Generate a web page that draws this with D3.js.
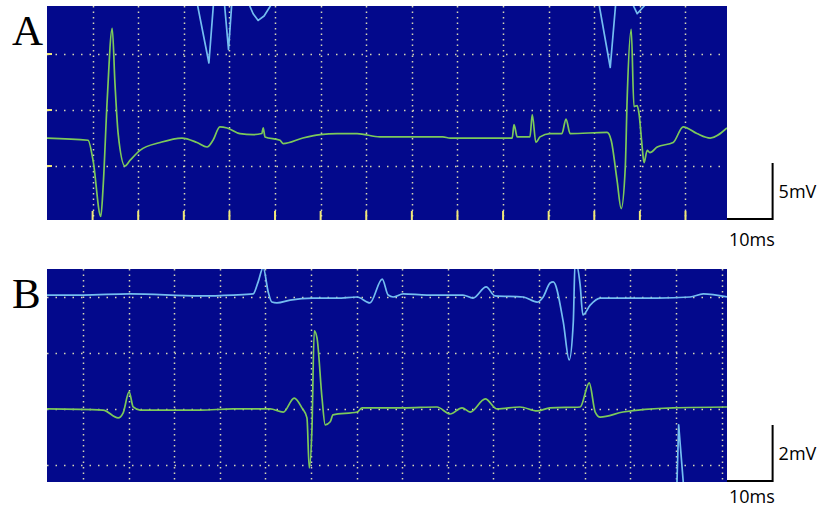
<!DOCTYPE html>
<html>
<head>
<meta charset="utf-8">
<script src="https://cdn.jsdelivr.net/npm/d3@7"></script>
<style>
  body { margin: 0; background: #fff; }
</style>
</head>
<body>
<div id="chart"></div>
<script>
// traces: [time in ms, voltage in mV], null = trace off screen
var greenA = [
  [0, -2.5], [9.0, -2.7], [10.1, -4.5], [11.8, -9.5], [12.3, -6.9], [13.2, 0.9],
  [14.3, 7.3], [14.9, 2.4], [15.6, -2.1], [17.1, -5.0], [18.2, -4.5], [20.4, -3.6],
  [24.8, -2.9], [29.6, -2.5], [32.9, -2.9], [35.1, -3.3], [36.4, -2.7], [37.9, -1.5],
  [39.5, -1.6], [42.3, -2.1], [45.2, -2.2], [47.1, -2.1], [47.4, -1.6], [47.8, -2.4],
  [51.1, -2.7], [51.8, -3.0], [56.1, -2.5], [59.9, -2.2], [63.6, -2.1], [68.0, -2.1],
  [73.0, -2.4], [79.6, -2.4], [86.8, -2.4], [88.4, -2.5], [100.0, -2.5], [102.0, -2.5],
  [102.4, -1.3], [103.1, -2.4], [105.9, -2.4], [106.4, -0.4], [107.2, -2.9], [108.1, -2.4],
  [110.3, -2.1], [112.9, -2.1], [113.8, -0.8], [114.7, -2.1], [122.8, -2.0], [123.7, -2.7],
  [125.0, -6.3], [125.9, -8.8], [126.8, -5.1], [127.2, 0.9], [128.1, 7.2], [128.7, 0.3],
  [129.4, 0.4], [129.8, -0.3], [130.5, -3.3], [130.9, -4.7], [131.6, -3.6], [132.2, -3.8],
  [133.8, -3.3], [137.3, -2.9], [139.5, -1.5], [142.5, -2.1], [145.4, -2.5], [149.1, -1.6]
];
var cyanA = [
  [32.7, 10.0], [35.5, 4.2], [36.6, 10.0], null,
  [38.8, 10.0], [39.8, 5.4], [40.6, 10.0], null,
  [43.7, 10.0], [45.2, 8.6], [46.3, 8.0], [47.6, 8.4], [49.3, 9.5], [50.0, 10.0], null,
  [120.8, 10.0], [123.5, 3.8], [124.8, 10.0], null,
  [127.8, 10.0], [129.4, 8.6], [131.4, 9.5], [132.5, 10.0]
];
var greenB = [
  [0, 0], [12.3, -0.04], [15.6, -0.32], [16.7, -0.14], [18.0, 0.61], [18.9, 0.07],
  [20.4, -0.04], [33.6, -0.04], [40.8, 0], [48.9, 0], [51.8, -0.11], [54.2, 0.39],
  [55.9, 0.04], [57.0, -0.32], [57.5, -2.11], [58.1, -0.68], [58.6, 2.79], [59.2, 2.54],
  [60.3, 0.39], [61.0, -0.57], [62.1, -0.46], [62.7, -0.21], [68.0, -0.11], [69.1, 0.04],
  [78.1, 0.04], [85.5, 0.07], [88.4, -0.18], [91.0, 0.04], [92.8, -0.11], [96.1, 0.36],
  [98.7, 0], [103.7, 0.07], [107.5, -0.07], [110.3, 0.04], [116.9, 0.07], [118.9, 0.93],
  [120.2, -0.11], [121.3, -0.29], [126.3, -0.11], [137.3, 0.04], [149.1, 0.07]
];
var cyanB = [
  [0, 4.07], [7.9, 4.07], [18.2, 4.11], [33.6, 4.04], [40.8, 4.07], [45.2, 4.11],
  [46.3, 4.54], [47.4, 5.05], [48.5, 4.18], [49.3, 3.82], [50.4, 3.79], [53.3, 3.89],
  [58.3, 3.96], [63.6, 3.96], [68.0, 4.0], [70.8, 3.79], [73.5, 4.64], [74.8, 4.07],
  [75.9, 4.0], [78.1, 4.11], [83.3, 4.07], [91.2, 4.07], [93.4, 3.96], [96.3, 4.36],
  [98.2, 4.04], [104.4, 4.0], [107.5, 3.82], [108.8, 4.0], [110.3, 4.5], [111.0, 4.54],
  [113.2, 3.11], [114.5, 1.75], [115.4, 3.11], [115.8, 5.3], [116.9, 4.43], [117.5, 3.36],
  [119.1, 3.71], [121.3, 3.96], [126.3, 3.96], [133.8, 3.96], [141.0, 4.0], [143.9, 4.11],
  [149.1, 4.0]
];
var cyanB2 = [[138.1, -2.8], [138.5, -0.57], [139.6, -2.8]];

// grid lines (ms / mV)
var gridTimeA = [10, 20, 30, 40, 50, 60, 70, 80, 90, 100, 110, 120, 130, 140];
var gridVoltA = [-5, 0, 5];
var gridTimeB = [7.9, 17.9, 27.9, 37.9, 47.9, 57.9, 67.9, 77.9, 87.9, 97.9, 107.9, 117.9, 127.9, 137.9, 147.9];
var gridVoltB = [-2, 0, 2, 4];

var W = 825, H = 509;
var BG = "#03098c", GREEN = "#7cc95a", CYAN = "#74bdf0", DOT = "#d6d6b4", TICK = "#f0e878";

var svg = d3.select("#chart").append("svg")
    .attr("width", W).attr("height", H)
    .style("font-family", "'Open Sans', sans-serif");

function panel(id, box, yDomain, gT, gV, traces, ticks, label, bar) {
  var x = d3.scaleLinear().domain([0, 149.1]).range([box.x0, box.x1]);
  var y = d3.scaleLinear().domain(yDomain).range([box.y1, box.y0]);

  svg.append("clipPath").attr("id", id)
    .append("rect")
      .attr("x", box.x0).attr("y", box.y0)
      .attr("width", box.x1 - box.x0).attr("height", box.y1 - box.y0);

  svg.append("rect")
    .attr("x", box.x0).attr("y", box.y0)
    .attr("width", box.x1 - box.x0).attr("height", box.y1 - box.y0)
    .attr("fill", BG);

  var g = svg.append("g").attr("clip-path", "url(#" + id + ")");

  // dotted grid
  g.selectAll(".vg").data(gT).enter().append("line")
    .attr("x1", function(d) { return Math.round(x(d)) + 0.5; })
    .attr("x2", function(d) { return Math.round(x(d)) + 0.5; })
    .attr("y1", box.y0).attr("y2", box.y1)
    .attr("stroke", DOT).attr("stroke-width", 1.5)
    .attr("stroke-dasharray", "1.5,4");
  g.selectAll(".hg").data(gV).enter().append("line")
    .attr("y1", function(d) { return Math.round(y(d)) + 0.5; })
    .attr("y2", function(d) { return Math.round(y(d)) + 0.5; })
    .attr("x1", box.x0).attr("x2", box.x1)
    .attr("stroke", DOT).attr("stroke-width", 1.5)
    .attr("stroke-dasharray", "1.5,7");

  if (ticks) {
    g.selectAll(".bt").data(gT).enter().append("rect")
      .attr("x", function(d) { return x(d) - 1; })
      .attr("y", box.y1 - 9).attr("width", 2).attr("height", 9)
      .attr("fill", TICK);
    g.selectAll(".lt").data(gV).enter().append("rect")
      .attr("x", box.x0).attr("y", function(d) { return y(d) - 1; })
      .attr("width", 5).attr("height", 2)
      .attr("fill", TICK);
  }

  traces.forEach(function(t) {
    var line = d3.line()
      .defined(function(d) { return d !== null; })
      .x(function(d) { return x(d[0]); })
      .y(function(d) { return y(d[1]); })
      .curve(t.sharp ? d3.curveLinear : d3.curveMonotoneX);
    g.append("path")
      .datum(t.data)
      .attr("fill", "none")
      .attr("stroke", t.color)
      .attr("stroke-width", 1.7)
      .attr("stroke-linejoin", "round")
      .attr("d", line);
  });

  // panel letter
  svg.append("text")
    .attr("x", 12).attr("y", label.y)
    .style("font-family", "'Liberation Serif', 'Times New Roman', serif")
    .style("font-size", "43px")
    .text(label.text);

  // scale bar: 10 ms across, bar.mv up
  var bx0 = box.x1, by = box.y1 - 1;
  var bx1 = bx0 + x(10) - x(0);
  var byTop = by - (y(0) - y(bar.mv));
  svg.append("path")
    .attr("d", "M" + bx0 + "," + by + "H" + bx1 + "V" + byTop)
    .attr("fill", "none").attr("stroke", "#000").attr("stroke-width", 2);
  svg.append("text")
    .attr("x", bx1 + 6).attr("y", (by + byTop) / 2 + 7)
    .style("font-size", "18px")
    .text(bar.mv + "mV");
  svg.append("text")
    .attr("x", bx0 + 2).attr("y", by + bar.labelDy)
    .style("font-size", "18px")
    .text("10ms");
}

panel("clipA", {x0: 47, x1: 727, y0: 6, y1: 220}, [-9.82, 9.29], gridTimeA, gridVoltA,
  [{data: cyanA, color: CYAN, sharp: true}, {data: greenA, color: GREEN}], true,
  {text: "A", y: 45}, {mv: 5, labelDy: 27});

panel("clipB", {x0: 47, x1: 727, y0: 269, y1: 482}, [-2.61, 5.0], gridTimeB, gridVoltB,
  [{data: greenB, color: GREEN}, {data: cyanB, color: CYAN}, {data: cyanB2, color: CYAN, sharp: true}], false,
  {text: "B", y: 308}, {mv: 2, labelDy: 22});
</script>
</body>
</html>
